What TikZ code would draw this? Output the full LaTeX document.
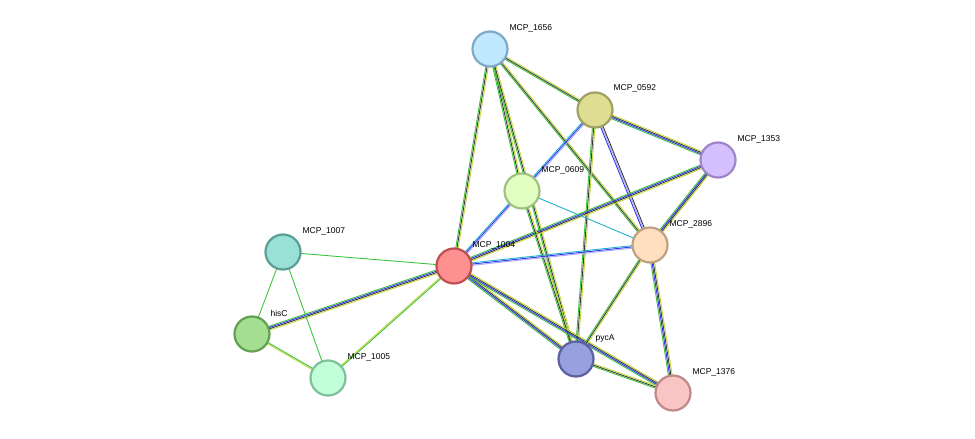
\documentclass[tikz,border=0pt]{standalone}
\usepackage{fontspec}
\setmainfont{Liberation Sans}
\usetikzlibrary{calc}
\definecolor{cG}{HTML}{3DC43D}
\definecolor{cK}{HTML}{3A3A3A}
\definecolor{cB}{HTML}{3333EE}
\definecolor{cY}{HTML}{C2D63A}
\definecolor{cC}{HTML}{22B2CF}
\definecolor{cP}{HTML}{A8A8FF}
\tikzset{
  prot/.style={circle,minimum size=35pt,inner sep=0pt,line width=2.2pt},
  lab/.style={anchor=west,font=\fontsize{8.5}{10}\selectfont},
  band/.style={line width=0.9pt}
}
\newcommand{\edge}[3]{%
  \foreach \c [count=\i] in {#3} {
    \pgfmathsetmacro{\n}{0}
  }
  \pgfmathsetmacro{\tot}{\i}
  \foreach \c [count=\i] in {#3} {
    \pgfmathsetmacro{\off}{(\i-(\tot+1)/2)*1.25}
    \draw[band,draw=\c] ($(#1)!\off pt!90:(#2)$) -- ($(#2)!\off pt!-90:(#1)$);
  }
}
\begin{document}
\begin{tikzpicture}[x=1pt,y=-1pt]
\useasboundingbox (0,0) rectangle (975,439);
\coordinate (p1656) at (490,49);
\coordinate (p0592) at (595,110);
\coordinate (p1353) at (718,160);
\coordinate (p0609) at (522,191);
\coordinate (p2896) at (650,245);
\coordinate (p1004) at (454,266);
\coordinate (p1007) at (283,252);
\coordinate (phisC) at (252,334);
\coordinate (p1005) at (328,378);
\coordinate (ppycA) at (576,359);
\coordinate (p1376) at (673,393);
\newcommand{\E}[3]{%
  \def\lst{#3}%
  \foreach \c [count=\i] in \lst {\xdef\tot{\i}}%
  \foreach \c [count=\i] in \lst {%
    \pgfmathsetmacro{\off}{(\i-(\tot+1)/2)*1.25}%
    \draw[band,draw=\c] ($(#1)!\off pt!90:(#2)$) -- ($(#2)!\off pt!-90:(#1)$);%
  }}
\E{p1656}{p1004}{cG,cK,cY}
\E{p1656}{p0609}{cG,cK,cY}
\E{p1656}{p0592}{cG,cK,cY}
\E{p1656}{p2896}{cG,cK,cY}
\E{p1656}{ppycA}{cG,cK,cY}
\E{p0592}{p0609}{cC,cB,cP}
\E{p0592}{p1353}{cG,cB,cK,cY}
\E{p0592}{p2896}{cB,cP,cK}
\E{p0592}{ppycA}{cG,cK,cY}
\E{p1353}{p1004}{cG,cB,cK,cY}
\E{p1353}{p2896}{cG,cB,cK,cY}
\E{p0609}{p1004}{cC,cB,cP}
\E{p0609}{p2896}{cC}
\E{p0609}{ppycA}{cG,cK,cY}
\E{p1004}{p2896}{cP,cB,cC}
\E{p1004}{ppycA}{cG,cB,cK,cY}
\E{p1004}{p1376}{cG,cB,cK,cY}
\E{p1004}{p1007}{cG}
\E{p1004}{phisC}{cG,cB,cK,cY}
\E{p1004}{p1005}{cY,cG}
\E{p2896}{ppycA}{cG,cK,cY}
\E{p2896}{p1376}{cG,cB,cK,cY}
\E{ppycA}{p1376}{cG,cK,cY}
\E{p1007}{phisC}{cG}
\E{p1007}{p1005}{cG}
\E{phisC}{p1005}{cY,cG}
\node[prot,fill={rgb,255:red,192;green,232;blue,255},draw={rgb,255:red,128;green,168;blue,200}] (n1656) at (p1656) {};
\node[prot,fill={rgb,255:red,222;green,221;blue,145},draw={rgb,255:red,160;green,160;blue,96}] (n0592) at (p0592) {};
\node[prot,fill={rgb,255:red,213;green,192;blue,255},draw={rgb,255:red,159;green,133;blue,200}] (n1353) at (p1353) {};
\node[prot,fill={rgb,255:red,224;green,255;blue,192},draw={rgb,255:red,163;green,192;blue,132}] (n0609) at (p0609) {};
\node[prot,fill={rgb,255:red,255;green,223;blue,192},draw={rgb,255:red,192;green,160;blue,128}] (n2896) at (p2896) {};
\node[prot,fill={rgb,255:red,255;green,144;blue,144},draw={rgb,255:red,192;green,80;blue,80}] (n1004) at (p1004) {};
\node[prot,fill={rgb,255:red,153;green,224;blue,214},draw={rgb,255:red,90;green,158;blue,150}] (n1007) at (p1007) {};
\node[prot,fill={rgb,255:red,163;green,222;blue,147},draw={rgb,255:red,99;green,160;blue,80}] (nhisC) at (phisC) {};
\node[prot,fill={rgb,255:red,192;green,255;blue,216},draw={rgb,255:red,128;green,192;blue,154}] (n1005) at (p1005) {};
\node[prot,fill={rgb,255:red,152;green,160;blue,224},draw={rgb,255:red,90;green,96;blue,160}] (npycA) at (ppycA) {};
\node[prot,fill={rgb,255:red,248;green,196;blue,196},draw={rgb,255:red,192;green,136;blue,136}] (n1376) at (p1376) {};
\node[lab] (l1656) at (506,28) {MCP\_1656};
\node[lab] (l0592) at (610,88) {MCP\_0592};
\node[lab] (l1353) at (734,139) {MCP\_1353};
\node[lab] (l0609) at (538,170) {MCP\_0609};
\node[lab] (l2896) at (666,224) {MCP\_2896};
\node[lab] (l1004) at (469,245) {MCP\_1004};
\node[lab] (l1007) at (299,231) {MCP\_1007};
\node[lab] (lhisC) at (267,313) {hisC};
\node[lab] (l1005) at (344,357) {MCP\_1005};
\node[lab] (lpycA) at (592,338) {pycA};
\node[lab] (l1376) at (689,372) {MCP\_1376};
\end{tikzpicture}
\end{document}
